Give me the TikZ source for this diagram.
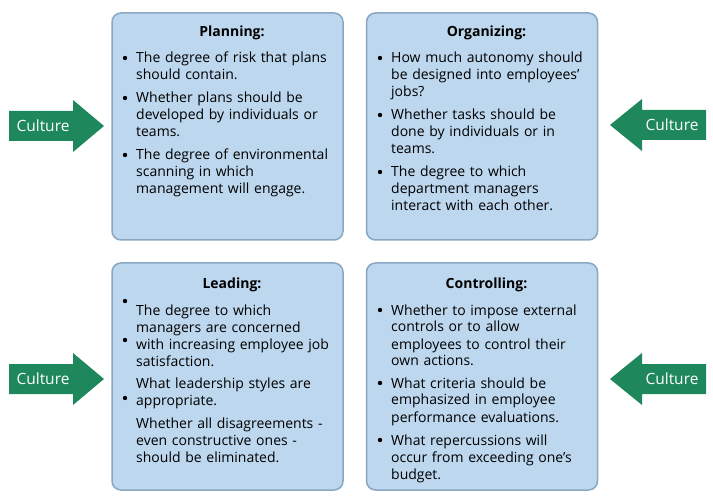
\documentclass[tikz,border=0pt]{standalone}
\usepackage{fontspec}
\setmainfont{Open Sans}
\definecolor{culturegreen}{RGB}{30,135,92}
\definecolor{boxfill}{RGB}{189,215,238}
\definecolor{boxline}{RGB}{137,167,194}
\begin{document}
\begin{tikzpicture}[x=1pt,y=-1pt,
  panel/.style={draw=boxline,fill=boxfill,line width=1.5pt,rounded corners=9pt,minimum width=231pt,minimum height=227pt,inner sep=0pt},
  paneltitle/.style={anchor=base,inner sep=0pt,font=\fontsize{14}{17}\selectfont\bfseries},
  itemtext/.style={anchor=base west,inner sep=0pt,text width=205pt,align=left,font=\fontsize{14}{17}\selectfont},
  bulletdot/.style={circle,fill=black,inner sep=0pt,minimum size=4.4pt},
  culturetext/.style={text=white,font=\fontsize{15.5}{18}\selectfont,inner sep=0pt}
]
\useasboundingbox (0,0) rectangle (713,500);

% panels
\node[panel] (plan) at (227.5,126.5) {};
\node[panel] (org)  at (482,126.5) {};
\node[panel] (lead) at (227.5,376.5) {};
\node[panel] (ctrl) at (482,376.5) {};

% titles
\node[paneltitle] (plantitle) at (232,37) {Planning:};
\node[paneltitle] (orgtitle) at (486.5,37) {Organizing:};
\node[paneltitle] (leadtitle) at (232,288) {Leading:};
\node[paneltitle] (ctrltitle) at (486.5,288) {Controlling:};

% Planning
\node[bulletdot] (pb1) at (125,58) {};
\node[bulletdot] (pb2) at (125,98) {};
\node[bulletdot] (pb3) at (125,155) {};
\node[itemtext] (p1) at (136,63) {The degree of risk that plans\\should contain.};
\node[itemtext] (p2) at (136,103) {Whether plans should be\\developed by individuals or\\teams.};
\node[itemtext] (p3) at (136,160) {The degree of environmental\\scanning in which\\management will engage.};

% Organizing
\node[bulletdot] (ob1) at (380,58) {};
\node[bulletdot] (ob2) at (380,115) {};
\node[bulletdot] (ob3) at (380,172) {};
\node[itemtext] (o1) at (391,63) {How much autonomy should\\be designed into employees’\\jobs?};
\node[itemtext] (o2) at (391,120) {Whether tasks should be\\done by individuals or in\\teams.};
\node[itemtext] (o3) at (391,177) {The degree to which\\department managers\\interact with each other.};

% Leading
\node[bulletdot] (lb1) at (125,301) {};
\node[bulletdot] (lb2) at (125,340) {};
\node[bulletdot] (lb3) at (125,398) {};
\node[itemtext] (l1) at (136,316) {The degree to which\\managers are concerned\\with increasing employee job\\satisfaction.};
\node[itemtext] (l2) at (136,388.5) {What leadership styles are\\appropriate.};
\node[itemtext] (l3) at (136,428.5) {Whether all disagreements -\\even constructive ones -\\should be eliminated.};

% Controlling
\node[bulletdot] (cb1) at (380,310) {};
\node[bulletdot] (cb2) at (380,383) {};
\node[bulletdot] (cb3) at (380,440) {};
\node[itemtext] (c1) at (391,315) {Whether to impose external\\controls or to allow\\employees to control their\\own actions.};
\node[itemtext] (c2) at (391,388) {What criteria should be\\emphasized in employee\\performance evaluations.};
\node[itemtext] (c3) at (391,445) {What repercussions will\\occur from exceeding one’s\\budget.};

% culture arrows
\fill[culturegreen] (9,111) -- (73,111) -- (73,100) -- (104,126) -- (73,152) -- (73,141) -- (9,141) -- cycle;
\node[culturetext] (cul1) at (43,126) {Culture};
\fill[culturegreen] (706,110) -- (642,110) -- (642,99) -- (610,125) -- (642,151) -- (642,140) -- (706,140) -- cycle;
\node[culturetext] (cul2) at (672,125) {Culture};
\fill[culturegreen] (9,364) -- (73,364) -- (73,353) -- (104,379) -- (73,405) -- (73,394) -- (9,394) -- cycle;
\node[culturetext] (cul3) at (43,379) {Culture};
\fill[culturegreen] (706,364) -- (642,364) -- (642,353) -- (610,379) -- (642,405) -- (642,394) -- (706,394) -- cycle;
\node[culturetext] (cul4) at (672,379) {Culture};
\end{tikzpicture}
\end{document}
